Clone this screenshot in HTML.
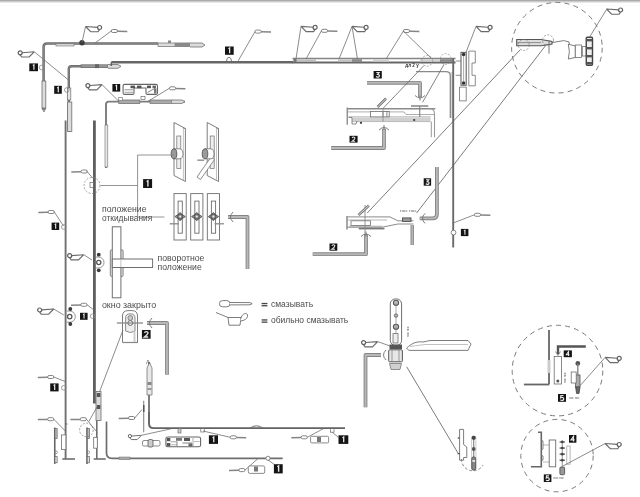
<!DOCTYPE html>
<html><head><meta charset="utf-8"><style>
html,body{margin:0;padding:0;background:#fff;width:640px;height:497px;overflow:hidden}
svg{display:block;filter:blur(0.5px)}
text{font-family:"Liberation Sans",sans-serif}
</style></head><body>
<svg width="640" height="497" viewBox="0 0 640 497">
<rect width="640" height="497" fill="#fff"/>
<rect x="0" y="0" width="640" height="1.7" fill="#aaaaaa"/>
<rect x="0" y="1.7" width="640" height="1.1" fill="#e2e2e2"/>
<path d="M43.6,110 L43.6,47 Q43.6,43.6 47,43.6 L158,43.6" stroke="#6a6a6a" stroke-width="2.5" fill="none" stroke-linejoin="round"/>
<path d="M43.6,110 L43.6,47 Q43.6,43.6 47,43.6 L158,43.6" stroke="#9a9a9a" stroke-width="0.6" fill="none" stroke-linejoin="round"/>
<rect x="42" y="81" width="3.8" height="27" stroke="#6e6e6e" stroke-width="0.8" fill="#dcdcdc" rx="0"/>
<path d="M42,108 L44,112 L45.8,108" stroke="#6e6e6e" stroke-width="0.8" fill="none" />
<rect x="56" y="43.8" width="18" height="2.2" stroke="#6e6e6e" stroke-width="0.6" fill="#dcdcdc" rx="0"/>
<circle cx="82" cy="42.8" r="2.7" stroke="#6e6e6e" stroke-width="0" fill="#3a3a3a" />
<rect x="158" y="43" width="17" height="3.4" stroke="#6e6e6e" stroke-width="0.7" fill="#dcdcdc" rx="0"/>
<rect x="175" y="42.5" width="15" height="4.5" fill="#8a8a8a"/>
<path d="M190,43 L202,43 L205,45 L202,47 L190,47" stroke="#6e6e6e" stroke-width="0.8" fill="#dcdcdc" />
<rect x="168" y="40.5" width="3" height="2.5" fill="#888"/>
<rect x="29.3" y="63.4" width="8.7" height="7.8" fill="#141414"/>
<path transform="translate(33.65,67.3) scale(0.9176470588235294)" d="M-0.9,-1.9 L0.3,-2.7 L0.3,2.7" stroke="#e8e8e8" stroke-width="1.3" fill="none"/>
<circle cx="41.6" cy="67.5" r="2.3" stroke="#888" stroke-width="0.8" fill="none" />
<g transform="translate(85.5,26.5) scale(1.0)" fill="none" stroke="#6a6a6a" stroke-width="1.15"><path d="M0,0 L12.2,0.9 M0,0 L5.2,5.2 L12.6,5.2 L14.2,3"/><circle cx="14.1" cy="1" r="2" stroke="#606060" stroke-width="1.2"/></g>
<line x1="85.5" y1="26.5" x2="82" y2="42.5" stroke="#6e6e6e" stroke-width="0.8" />
<g transform="translate(111.3,31)"><path d="M6,0.2 L16,0.4" stroke="#858585" stroke-width="1.5"/><rect x="0" y="-1.5" width="6.2" height="3" rx="1.5" fill="#fff" stroke="#777" stroke-width="0.9"/></g>
<line x1="111.3" y1="31" x2="95" y2="43" stroke="#6e6e6e" stroke-width="0.8" />
<g transform="translate(34.3,51.8) scale(-1.0,1.0)" fill="none" stroke="#6a6a6a" stroke-width="1.15"><path d="M0,0 L12.2,0.9 M0,0 L5.2,5.2 L12.6,5.2 L14.2,3"/><circle cx="14.1" cy="1" r="2" stroke="#606060" stroke-width="1.2"/></g>
<line x1="34.3" y1="51.8" x2="68.5" y2="80" stroke="#6e6e6e" stroke-width="0.8" />
<path d="M68.8,132 L68.8,69 Q68.8,66.2 71.6,66.2 L111.3,66.2" stroke="#6a6a6a" stroke-width="2.4" fill="none" stroke-linejoin="round"/>
<path d="M68.8,132 L68.8,69 Q68.8,66.2 71.6,66.2 L111.3,66.2" stroke="#9a9a9a" stroke-width="0.6" fill="none" stroke-linejoin="round"/>
<rect x="67.4" y="88" width="3.4" height="12" stroke="#6e6e6e" stroke-width="0.7" fill="#e6e6e6" rx="0"/>
<rect x="67.6" y="102" width="4.2" height="29.5" stroke="#6e6e6e" stroke-width="0.8" fill="#dcdcdc" rx="0"/>
<rect x="81" y="64.8" width="27" height="2.8" stroke="#666" stroke-width="0.7" fill="#999" rx="0"/>
<rect x="95" y="64.3" width="4" height="3.8" fill="#666"/>
<path d="M108,64.5 L118,64.5 L121,66.3 L118,68.3 L108,68.3" stroke="#6e6e6e" stroke-width="0.8" fill="#dcdcdc" />
<line x1="111.3" y1="66" x2="111.3" y2="62.3" stroke="#636363" stroke-width="1.6" />
<line x1="111.3" y1="62.3" x2="293" y2="62.3" stroke="#666" stroke-width="2.4" />
<line x1="292.5" y1="58.4" x2="455.5" y2="58.4" stroke="#858585" stroke-width="1.5" />
<line x1="292.5" y1="62.5" x2="455.5" y2="62.5" stroke="#666" stroke-width="2.1" />
<rect x="293.5" y="59.4" width="22.5" height="2.2" fill="#bdbdbd"/>
<rect x="293.5" y="59" width="3" height="3" fill="#777"/>
<rect x="338" y="59.4" width="14" height="2.2" fill="#c4c4c4"/>
<rect x="352" y="59.2" width="10" height="2.6" fill="#888"/>
<rect x="373" y="59.4" width="16" height="2.2" fill="#cfcfcf"/>
<rect x="420" y="59.4" width="20" height="2.2" fill="#cfcfcf"/>
<rect x="440" y="59.2" width="13" height="2.6" fill="#8a8a8a"/>
<rect x="450.3" y="72" width="3" height="46" fill="#d8d8d8"/>
<line x1="453.2" y1="58.3" x2="453.2" y2="247.5" stroke="#6a6a6a" stroke-width="1.9" />
<path d="M416,71.7 L446,71.7 Q450.3,71.7 450.3,76 L450.3,118" stroke="#8a8a8a" stroke-width="1.3" fill="none" />
<rect x="54.2" y="85.8" width="7.6" height="8" fill="#141414"/>
<path transform="translate(58.0,89.8) scale(0.9411764705882353)" d="M-0.9,-1.9 L0.3,-2.7 L0.3,2.7" stroke="#e8e8e8" stroke-width="1.3" fill="none"/>
<circle cx="66.8" cy="90" r="2.3" stroke="#888" stroke-width="0.8" fill="none" />
<rect x="225" y="46.5" width="8.7" height="8.3" fill="#141414"/>
<path transform="translate(229.35,50.65) scale(0.9764705882352942)" d="M-0.9,-1.9 L0.3,-2.7 L0.3,2.7" stroke="#e8e8e8" stroke-width="1.3" fill="none"/>
<path d="M226.5,61.2 Q226.8,57.3 229,57.3 Q231.2,57.3 231.6,61.2" stroke="#6e6e6e" stroke-width="0.9" fill="none" />
<g transform="translate(255,31.6)"><path d="M6,0.2 L16,0.4" stroke="#858585" stroke-width="1.5"/><rect x="0" y="-1.5" width="6.2" height="3" rx="1.5" fill="#fff" stroke="#777" stroke-width="0.9"/></g>
<line x1="255" y1="31.6" x2="237.5" y2="62" stroke="#6e6e6e" stroke-width="0.8" />
<g transform="translate(301,26.4) scale(1.0)" fill="none" stroke="#6a6a6a" stroke-width="1.15"><path d="M0,0 L12.2,0.9 M0,0 L5.2,5.2 L12.6,5.2 L14.2,3"/><circle cx="14.1" cy="1" r="2" stroke="#606060" stroke-width="1.2"/></g>
<line x1="301" y1="26.4" x2="296" y2="59" stroke="#6e6e6e" stroke-width="0.8" />
<g transform="translate(321.4,30.8)"><path d="M6,0.2 L16,0.4" stroke="#858585" stroke-width="1.5"/><rect x="0" y="-1.5" width="6.2" height="3" rx="1.5" fill="#fff" stroke="#777" stroke-width="0.9"/></g>
<line x1="321.4" y1="30.8" x2="306" y2="59" stroke="#6e6e6e" stroke-width="0.8" />
<g transform="translate(352,26.4) scale(1.0)" fill="none" stroke="#6a6a6a" stroke-width="1.15"><path d="M0,0 L12.2,0.9 M0,0 L5.2,5.2 L12.6,5.2 L14.2,3"/><circle cx="14.1" cy="1" r="2" stroke="#606060" stroke-width="1.2"/></g>
<line x1="352" y1="26.4" x2="339" y2="59" stroke="#6e6e6e" stroke-width="0.8" />
<line x1="352" y1="26.4" x2="357.5" y2="59" stroke="#6e6e6e" stroke-width="0.8" />
<g transform="translate(403.4,31)"><path d="M6,0.2 L16,0.4" stroke="#858585" stroke-width="1.5"/><rect x="0" y="-1.5" width="6.2" height="3" rx="1.5" fill="#fff" stroke="#777" stroke-width="0.9"/></g>
<line x1="403.4" y1="31" x2="386" y2="59" stroke="#6e6e6e" stroke-width="0.8" />
<line x1="403.4" y1="31" x2="431" y2="58" stroke="#6e6e6e" stroke-width="0.8" />
<text x="405.3" y="67" font-size="5" fill="#333" font-weight="bold" textLength="13.4" lengthAdjust="spacingAndGlyphs">дл 2 у</text>
<circle cx="427.2" cy="60.8" r="5.4" stroke="#7a7a7a" stroke-width="0.6" fill="none" stroke-dasharray="2 1.4"/>
<circle cx="445.7" cy="59" r="5.4" stroke="#7a7a7a" stroke-width="0.6" fill="none" stroke-dasharray="2 1.4"/>
<path d="M455.7,61 L461,61 M455.7,75.3 L461,75.3" stroke="#6e6e6e" stroke-width="0.8" fill="none" />
<rect x="461" y="52.4" width="5.2" height="32.8" stroke="#636363" stroke-width="1.1" fill="#fff" rx="0"/>
<circle cx="463.6" cy="54.5" r="1.8" stroke="#6e6e6e" stroke-width="0" fill="#333" />
<circle cx="463.6" cy="83" r="1.8" stroke="#6e6e6e" stroke-width="0" fill="#333" />
<line x1="463.6" y1="56" x2="463.6" y2="81" stroke="#6e6e6e" stroke-width="0.6" />
<path d="M468.8,51.1 L475.3,51.1 L475.3,63 L472,63 L472,75.3 L475.3,75.3 L475.3,85.8 L468.8,85.8 Z" stroke="#6e6e6e" stroke-width="0.8" fill="#fff" />
<rect x="459.6" y="87.1" width="6.6" height="13.8" stroke="#6e6e6e" stroke-width="0.8" fill="#fff" rx="0"/>
<g transform="translate(476,26.4) scale(1.0)" fill="none" stroke="#6a6a6a" stroke-width="1.15"><path d="M0,0 L12.2,0.9 M0,0 L5.2,5.2 L12.6,5.2 L14.2,3"/><circle cx="14.1" cy="1" r="2" stroke="#606060" stroke-width="1.2"/></g>
<line x1="476" y1="26.4" x2="466" y2="52.4" stroke="#6e6e6e" stroke-width="0.8" />
<line x1="65.6" y1="120.4" x2="65.6" y2="459" stroke="#707070" stroke-width="1.9" />
<line x1="62.3" y1="459" x2="75" y2="459" stroke="#6e6e6e" stroke-width="1.6" />
<line x1="94.4" y1="120.4" x2="94.4" y2="403.5" stroke="#5e5e5e" stroke-width="2.8" />
<path d="M106,168 L106,104.4 Q106,101.6 108.8,101.6 L185,101.6" stroke="#7c7c7c" stroke-width="1.9" fill="none" />
<rect x="118.75" y="100" width="21" height="3.4" stroke="#707070" stroke-width="0.8" fill="#aaa" rx="0"/>
<rect x="118.75" y="97.5" width="3.75" height="3" stroke="#777" stroke-width="0.7" fill="#fff" rx="0"/>
<rect x="105" y="125" width="2.8" height="42" stroke="#6e6e6e" stroke-width="0.6" fill="#e8e8e8" rx="0"/>
<rect x="150" y="100" width="22" height="3.4" stroke="#6e6e6e" stroke-width="0.7" fill="#aaa" rx="0"/>
<path d="M172,100 L182,100 L185,101.7 L182,103.4 L172,103.4" stroke="#6e6e6e" stroke-width="0.8" fill="#dcdcdc" />
<rect x="112.4" y="84" width="7.8" height="7.6" fill="#141414"/>
<path transform="translate(116.30000000000001,87.8) scale(0.8941176470588235)" d="M-0.9,-1.9 L0.3,-2.7 L0.3,2.7" stroke="#e8e8e8" stroke-width="1.3" fill="none"/>
<path d="M124.6,84.4 L156,84.4 Q157.5,84.4 157.5,86 L157.5,92.9 Q157.5,94.4 156,94.4 L147.5,94.4 Q146,94.4 146,92.9 L146,88 L134,88 L134,92.9 Q134,94.4 132.5,94.4 L124.6,94.4 Q123.1,94.4 123.1,92.9 L123.1,86 Q123.1,84.4 124.6,84.4 Z" stroke="#666" stroke-width="1.1" fill="#fff" />
<rect x="130.5" y="85.6" width="4.5" height="2.6" fill="#555"/>
<rect x="137" y="85.6" width="4.5" height="2.6" fill="#555"/>
<rect x="147" y="85.6" width="4" height="2.6" fill="#555"/>
<rect x="152.5" y="85.6" width="3.5" height="2.6" fill="#666"/>
<line x1="124.5" y1="89.8" x2="133" y2="89.8" stroke="#888" stroke-width="0.9" />
<line x1="124.5" y1="92.3" x2="133" y2="92.3" stroke="#999" stroke-width="0.9" />
<line x1="147.5" y1="92.5" x2="155.5" y2="88" stroke="#777" stroke-width="0.9" />
<rect x="154" y="88.5" width="2.5" height="5" fill="#777"/>
<g transform="translate(102,84.6) scale(-1.0,1.0)" fill="none" stroke="#6a6a6a" stroke-width="1.15"><path d="M0,0 L12.2,0.9 M0,0 L5.2,5.2 L12.6,5.2 L14.2,3"/><circle cx="14.1" cy="1" r="2" stroke="#606060" stroke-width="1.2"/></g>
<line x1="102" y1="84.6" x2="119" y2="101.5" stroke="#6e6e6e" stroke-width="0.8" />
<g transform="translate(169.4,88.3)"><path d="M6,0.2 L16,0.4" stroke="#858585" stroke-width="1.5"/><rect x="0" y="-1.5" width="6.2" height="3" rx="1.5" fill="#fff" stroke="#777" stroke-width="0.9"/></g>
<line x1="169.4" y1="88.3" x2="147.5" y2="101.6" stroke="#6e6e6e" stroke-width="0.8" />
<rect x="141" y="96.5" width="4" height="3" stroke="#6e6e6e" stroke-width="0.7" fill="none" rx="0"/>
<path d="M174,122.5 L185.4,128.5 L185.4,181.5 L174,175.5 Z" stroke="#6e6e6e" stroke-width="0.9" fill="#fff" />
<path d="M185.4,128.5 L183.20000000000002,128.5 " stroke="#6e6e6e" stroke-width="0.6" fill="none" />
<line x1="183.4" y1="128.0" x2="183.4" y2="181.0" stroke="#999" stroke-width="0.6" />
<rect x="176.8" y="136" width="4" height="32.5" stroke="#6e6e6e" stroke-width="0.7" fill="#eee" rx="0"/>
<path d="M174,148.8 L180,148.8 A3,5 0 0 1 180,158.8 L174,158.8" stroke="#6e6e6e" stroke-width="0.8" fill="#fff" />
<ellipse cx="174" cy="153.8" rx="2.8" ry="5" fill="#9a9a9a" stroke="#555" stroke-width="0.9"/>
<path d="M207.2,122.5 L218.5,128.5 L218.5,181.5 L207.2,175.5 Z" stroke="#6e6e6e" stroke-width="0.9" fill="#fff" />
<path d="M218.5,128.5 L216.3,128.5 " stroke="#6e6e6e" stroke-width="0.6" fill="none" />
<line x1="216.5" y1="128.0" x2="216.5" y2="181.0" stroke="#999" stroke-width="0.6" />
<rect x="210.2" y="136" width="4" height="32.5" stroke="#6e6e6e" stroke-width="0.7" fill="#eee" rx="0"/>
<path d="M197,177 L211,157 L214.5,159.5 L200.5,179.5 Z" stroke="#6e6e6e" stroke-width="0.8" fill="#fff" />
<line x1="197.4" y1="160.2" x2="204.2" y2="160.2" stroke="#999" stroke-width="1.6" />
<path d="M205,148.8 L211,148.8 A3,5 0 0 1 211,158.8 L205,158.8" stroke="#6e6e6e" stroke-width="0.8" fill="#fff" />
<ellipse cx="205" cy="153.8" rx="2.8" ry="5" fill="#9a9a9a" stroke="#555" stroke-width="0.9"/>
<line x1="137.6" y1="155" x2="174" y2="155" stroke="#888" stroke-width="0.9" />
<line x1="137.6" y1="155" x2="137.6" y2="217" stroke="#888" stroke-width="0.9" />
<line x1="100.5" y1="185.5" x2="137.6" y2="185.5" stroke="#888" stroke-width="0.9" />
<line x1="137.6" y1="217" x2="164.4" y2="217" stroke="#888" stroke-width="0.9" />
<rect x="143.1" y="179.1" width="9" height="8.9" fill="#141414"/>
<path transform="translate(147.6,183.54999999999998) scale(1.0470588235294118)" d="M-0.9,-1.9 L0.3,-2.7 L0.3,2.7" stroke="#e8e8e8" stroke-width="1.3" fill="none"/>
<circle cx="92" cy="185.5" r="8" stroke="#7a7a7a" stroke-width="0.7" fill="none" stroke-dasharray="2 1.5"/>
<rect x="90" y="182.5" width="3.5" height="5" stroke="#6e6e6e" stroke-width="0.7" fill="none" rx="0"/>
<g transform="translate(87.3,171.5) scale(-1,1)"><path d="M6,0.2 L16,0.4" stroke="#858585" stroke-width="1.5"/><rect x="0" y="-1.5" width="6.2" height="3" rx="1.5" fill="#fff" stroke="#777" stroke-width="0.9"/></g>
<line x1="86.5" y1="171" x2="93.2" y2="178.5" stroke="#6e6e6e" stroke-width="0.8" />
<rect x="174" y="193.6" width="12.2" height="46.4" stroke="#6e6e6e" stroke-width="0.9" fill="#fff" rx="0"/>
<rect x="178.1" y="201.1" width="4.2" height="32.1" stroke="#6e6e6e" stroke-width="0.9" fill="none" rx="0"/>
<path d="M174.9,216.6 L177.6,214.79999999999998 L180.1,212.6 L182.6,214.79999999999998 L185.29999999999998,216.6 L182.6,218.4 L180.1,220.6 L177.6,218.4 Z" stroke="#555" stroke-width="0.9" fill="#9a9a9a" />
<circle cx="180.1" cy="216.6" r="2.6" stroke="#444" stroke-width="0.8" fill="#888" />
<circle cx="180.1" cy="216.6" r="1.0" stroke="#6e6e6e" stroke-width="0" fill="#eee" />
<rect x="190.7" y="193.6" width="12.2" height="46.4" stroke="#6e6e6e" stroke-width="0.9" fill="#fff" rx="0"/>
<rect x="194.79999999999998" y="201.1" width="4.2" height="32.1" stroke="#6e6e6e" stroke-width="0.9" fill="none" rx="0"/>
<path d="M191.6,216.6 L194.29999999999998,214.79999999999998 L196.79999999999998,212.6 L199.29999999999998,214.79999999999998 L201.99999999999997,216.6 L199.29999999999998,218.4 L196.79999999999998,220.6 L194.29999999999998,218.4 Z" stroke="#555" stroke-width="0.9" fill="#9a9a9a" />
<circle cx="196.79999999999998" cy="216.6" r="2.6" stroke="#444" stroke-width="0.8" fill="#888" />
<circle cx="196.79999999999998" cy="216.6" r="1.0" stroke="#6e6e6e" stroke-width="0" fill="#eee" />
<rect x="207.3" y="193.6" width="12.2" height="46.4" stroke="#6e6e6e" stroke-width="0.9" fill="#fff" rx="0"/>
<rect x="211.4" y="201.1" width="4.2" height="32.1" stroke="#6e6e6e" stroke-width="0.9" fill="none" rx="0"/>
<path d="M208.20000000000002,216.6 L210.9,214.79999999999998 L213.4,212.6 L215.9,214.79999999999998 L218.6,216.6 L215.9,218.4 L213.4,220.6 L210.9,218.4 Z" stroke="#555" stroke-width="0.9" fill="#9a9a9a" />
<circle cx="213.4" cy="216.6" r="2.6" stroke="#444" stroke-width="0.8" fill="#888" />
<circle cx="213.4" cy="216.6" r="1.0" stroke="#6e6e6e" stroke-width="0" fill="#eee" />
<line x1="169.7" y1="223.8" x2="179" y2="223.8" stroke="#888" stroke-width="1.3" />
<line x1="214.5" y1="223.8" x2="223.9" y2="223.8" stroke="#888" stroke-width="1.3" />
<path d="M228,217 L247.5,217 L247.5,269" stroke="#858585" stroke-width="3.8" fill="none" stroke-linejoin="round"/>
<path d="M228,217 L247.5,217 L247.5,269" stroke="#b8b8b8" stroke-width="1.9" fill="none" stroke-linejoin="round"/>
<path d="M233,212 Q228,217 233,222" stroke="#6e6e6e" stroke-width="0.9" fill="none" />
<text x="102" y="211.9" font-size="9.3" fill="#4c4c4c" textLength="44.5" lengthAdjust="spacingAndGlyphs">положение</text>
<text x="102" y="221.3" font-size="9.3" fill="#4c4c4c" textLength="50.2" lengthAdjust="spacingAndGlyphs">откидывания</text>
<text x="157.5" y="261" font-size="9.3" fill="#4c4c4c" textLength="46.9" lengthAdjust="spacingAndGlyphs">поворотное</text>
<text x="157.5" y="269.6" font-size="9.3" fill="#4c4c4c" textLength="44.2" lengthAdjust="spacingAndGlyphs">положение</text>
<text x="101.9" y="307.5" font-size="9.3" fill="#4c4c4c" textLength="54.3" lengthAdjust="spacingAndGlyphs">окно закрыто</text>
<text x="271" y="306.9" font-size="9.3" fill="#4c4c4c" textLength="42.1" lengthAdjust="spacingAndGlyphs">смазывать</text>
<text x="271" y="323.3" font-size="9.3" fill="#4c4c4c" textLength="77.3" lengthAdjust="spacingAndGlyphs">обильно смазывать</text>
<rect x="261.6" y="302.9" width="5.8" height="1.3" fill="#444"/>
<rect x="261.6" y="305.1" width="5.8" height="1.3" fill="#444"/>
<rect x="261.6" y="319.3" width="5.8" height="1.3" fill="#444"/>
<rect x="261.6" y="321.5" width="5.8" height="1.3" fill="#444"/>
<g fill="#fff" stroke="#6e6e6e" stroke-width="0.9"><rect x="219.4" y="300.6" width="10.6" height="6.2" rx="3.1"/><path d="M230,302.5 L250,302.6 L252.2,303.7 L250,304.8 L230,304.9"/></g>
<g fill="#fff" stroke="#6e6e6e" stroke-width="0.9"><path d="M216,312.5 L228,317.5 L241,317.5 L240,325.2 L229,325.2 L228,317.5"/><path d="M241,318.5 C242,312.5 248.5,312 247.5,316.5 C247,319 244.5,320.5 240.5,321"/></g>
<rect x="110.3" y="249.9" width="12.8" height="26.5" stroke="#777" stroke-width="0.9" fill="#e4e4e4" rx="1"/>
<rect x="112.3" y="226.8" width="8.6" height="71" stroke="#6e6e6e" stroke-width="1" fill="#fff" rx="0"/>
<rect x="112.3" y="259" width="40.3" height="8.5" stroke="#6e6e6e" stroke-width="1" fill="#fff" rx="0"/>
<line x1="120.9" y1="259.5" x2="120.9" y2="267" stroke="#aaa" stroke-width="0.7" />
<path d="M95.6,257 L98.5,257 A5.5,5.5 0 0 1 98.5,268 L95.6,268" stroke="#888" stroke-width="0.9" fill="none" />
<circle cx="98.75" cy="262.5" r="2.1" stroke="#555" stroke-width="1.3" fill="#fff" />
<circle cx="98.75" cy="254.7" r="1.9" stroke="#6e6e6e" stroke-width="0" fill="#3a3a3a" />
<circle cx="98.75" cy="270.3" r="1.9" stroke="#6e6e6e" stroke-width="0" fill="#3a3a3a" />
<g transform="translate(83.75,254.7) scale(-1.0,1.0)" fill="none" stroke="#6a6a6a" stroke-width="1.15"><path d="M0,0 L12.2,0.9 M0,0 L5.2,5.2 L12.6,5.2 L14.2,3"/><circle cx="14.1" cy="1" r="2" stroke="#606060" stroke-width="1.2"/></g>
<line x1="83.75" y1="254.7" x2="91.9" y2="260" stroke="#6e6e6e" stroke-width="0.8" />
<g transform="translate(54.3,212) scale(-1,1)"><path d="M6,0.2 L16,0.4" stroke="#858585" stroke-width="1.5"/><rect x="0" y="-1.5" width="6.2" height="3" rx="1.5" fill="#fff" stroke="#777" stroke-width="0.9"/></g>
<line x1="54.3" y1="212" x2="63.5" y2="226" stroke="#6e6e6e" stroke-width="0.8" />
<rect x="51.6" y="222.6" width="7.6" height="7.4" fill="#141414"/>
<path transform="translate(55.4,226.29999999999998) scale(0.8705882352941177)" d="M-0.9,-1.9 L0.3,-2.7 L0.3,2.7" stroke="#e8e8e8" stroke-width="1.3" fill="none"/>
<circle cx="63.8" cy="227" r="2.3" stroke="#888" stroke-width="0.8" fill="none" />
<path d="M66.8,311 L69.7,311 A5.6,5.6 0 0 1 69.7,322.2 L66.8,322.2" stroke="#888" stroke-width="0.9" fill="none" />
<circle cx="69.7" cy="316.6" r="2.2" stroke="#555" stroke-width="1.3" fill="#fff" />
<circle cx="70.3" cy="309" r="1.9" stroke="#6e6e6e" stroke-width="0" fill="#3a3a3a" />
<circle cx="70.3" cy="324" r="1.9" stroke="#6e6e6e" stroke-width="0" fill="#3a3a3a" />
<g transform="translate(53.75,309) scale(-1.0,1.0)" fill="none" stroke="#6a6a6a" stroke-width="1.15"><path d="M0,0 L12.2,0.9 M0,0 L5.2,5.2 L12.6,5.2 L14.2,3"/><circle cx="14.1" cy="1" r="2" stroke="#606060" stroke-width="1.2"/></g>
<line x1="53.75" y1="309" x2="63.75" y2="315" stroke="#6e6e6e" stroke-width="0.8" />
<g transform="translate(87,304.8) scale(-1,1)"><path d="M6,0.2 L16,0.4" stroke="#858585" stroke-width="1.5"/><rect x="0" y="-1.5" width="6.2" height="3" rx="1.5" fill="#fff" stroke="#777" stroke-width="0.9"/></g>
<line x1="87" y1="304.8" x2="94" y2="310" stroke="#6e6e6e" stroke-width="0.8" />
<rect x="80" y="312.8" width="7.6" height="7" fill="#141414"/>
<path transform="translate(83.8,316.3) scale(0.8235294117647058)" d="M-0.9,-1.9 L0.3,-2.7 L0.3,2.7" stroke="#e8e8e8" stroke-width="1.3" fill="none"/>
<circle cx="92.60000000000001" cy="316.2" r="2.3" stroke="#888" stroke-width="0.8" fill="none" />
<g transform="translate(53.8,377) scale(-1,1)"><path d="M6,0.2 L16,0.4" stroke="#858585" stroke-width="1.5"/><rect x="0" y="-1.5" width="6.2" height="3" rx="1.5" fill="#fff" stroke="#777" stroke-width="0.9"/></g>
<line x1="53.8" y1="377" x2="65.6" y2="381.7" stroke="#6e6e6e" stroke-width="0.8" />
<rect x="50.2" y="383.4" width="8.4" height="8" fill="#141414"/>
<path transform="translate(54.400000000000006,387.4) scale(0.9411764705882353)" d="M-0.9,-1.9 L0.3,-2.7 L0.3,2.7" stroke="#e8e8e8" stroke-width="1.3" fill="none"/>
<circle cx="63.8" cy="387.8" r="2.3" stroke="#888" stroke-width="0.8" fill="none" />
<path d="M122.5,342.5 L122.5,316 Q122.5,310.6 128,310.6 L132,310.6 Q137.5,310.6 137.5,316 L137.5,342.5" stroke="#6e6e6e" stroke-width="0.9" fill="#fff" />
<line x1="122.5" y1="342.5" x2="138" y2="342.5" stroke="#888" stroke-width="1.2" />
<path d="M125.6,331 L125.6,318 Q125.6,313.8 130.3,313.8 Q135,313.8 135,318 L135,331 Q130.3,334 125.6,331 Z" stroke="#6e6e6e" stroke-width="0.8" fill="#eee" />
<circle cx="130.3" cy="318" r="2.4" stroke="#6e6e6e" stroke-width="0.8" fill="#ccc" />
<circle cx="130.3" cy="323" r="2.4" stroke="#555" stroke-width="0.9" fill="#fff" />
<line x1="116.9" y1="323" x2="143" y2="323" stroke="#888" stroke-width="1.3" />
<line x1="134.5" y1="331" x2="134.5" y2="342" stroke="#ccc" stroke-width="2" />
<rect x="141.9" y="330" width="8.7" height="8.7" fill="#141414"/>
<path transform="translate(146.25,334.35) scale(1.0235294117647058)" d="M-1.7,-1.4 Q-1.4,-2.7 0,-2.7 Q1.7,-2.7 1.7,-1.2 Q1.7,0 -1.8,2.6 L1.9,2.6" stroke="#e8e8e8" stroke-width="1.3" fill="none"/>
<line x1="123" y1="330" x2="99.7" y2="391.4" stroke="#6e6e6e" stroke-width="0.8" />
<path d="M147,323 L167,323 L167,374.7" stroke="#858585" stroke-width="3.8" fill="none" stroke-linejoin="round"/>
<path d="M147,323 L167,323 L167,374.7" stroke="#b8b8b8" stroke-width="1.9" fill="none" stroke-linejoin="round"/>
<path d="M152,318 Q147,323 152,328" stroke="#6e6e6e" stroke-width="0.9" fill="none" />
<line x1="65.6" y1="424" x2="67.5" y2="424" stroke="#6e6e6e" stroke-width="1" />
<rect x="61.5" y="434.9" width="4.4" height="14.5" stroke="#6e6e6e" stroke-width="0.8" fill="#fff" rx="0"/>
<line x1="54.74999999999999" y1="427.6" x2="54.74999999999999" y2="463.90000000000003" stroke="#666" stroke-width="1.6" />
<rect x="54.949999999999996" y="428.6" width="2.2" height="9.801" stroke="#666" stroke-width="0.7" fill="#bbb" rx="0"/>
<circle cx="55.949999999999996" cy="452.28400000000005" r="1.4" stroke="#777" stroke-width="0.7" fill="none" />
<rect x="54.949999999999996" y="456.64000000000004" width="2.2" height="6.171" stroke="#666" stroke-width="0.7" fill="#ddd" rx="0"/>
<g transform="translate(53.8,419.2) scale(-1,1)"><path d="M6,0.2 L16,0.4" stroke="#858585" stroke-width="1.5"/><rect x="0" y="-1.5" width="6.2" height="3" rx="1.5" fill="#fff" stroke="#777" stroke-width="0.9"/></g>
<line x1="53.8" y1="419.2" x2="65.6" y2="431.3" stroke="#6e6e6e" stroke-width="0.8" />
<line x1="96.8" y1="391" x2="96.8" y2="459" stroke="#6e6e6e" stroke-width="1.6" />
<line x1="93.7" y1="459" x2="105.7" y2="459" stroke="#6e6e6e" stroke-width="1.6" />
<rect x="96" y="391.4" width="5" height="29" stroke="#6e6e6e" stroke-width="0.8" fill="#dcdcdc" rx="0"/>
<rect x="96.8" y="393" width="3.5" height="4" fill="#555"/>
<rect x="96.8" y="405" width="3.5" height="4" fill="#555"/>
<rect x="93.7" y="437.3" width="3.6" height="10.9" stroke="#6e6e6e" stroke-width="0.8" fill="#fff" rx="0"/>
<line x1="87.00000000000001" y1="427.6" x2="87.00000000000001" y2="463.90000000000003" stroke="#666" stroke-width="1.6" />
<rect x="87.2" y="428.6" width="2.2" height="9.801" stroke="#666" stroke-width="0.7" fill="#bbb" rx="0"/>
<circle cx="88.2" cy="452.28400000000005" r="1.4" stroke="#777" stroke-width="0.7" fill="none" />
<rect x="87.2" y="456.64000000000004" width="2.2" height="6.171" stroke="#666" stroke-width="0.7" fill="#ddd" rx="0"/>
<circle cx="86.4" cy="430" r="6.8" stroke="#7a7a7a" stroke-width="0.7" fill="none" stroke-dasharray="2 1.5"/>
<g transform="translate(86.4,419.2) scale(-1,1)"><path d="M6,0.2 L16,0.4" stroke="#858585" stroke-width="1.5"/><rect x="0" y="-1.5" width="6.2" height="3" rx="1.5" fill="#fff" stroke="#777" stroke-width="0.9"/></g>
<line x1="86.4" y1="419.2" x2="97.3" y2="432.5" stroke="#6e6e6e" stroke-width="0.8" />
<line x1="88.8" y1="421.6" x2="97" y2="407" stroke="#6e6e6e" stroke-width="0.8" />
<path d="M149,362 L149,423.5 Q149,428.1 153.5,428.1 L345,428.1" stroke="#636363" stroke-width="1.9" fill="none" />
<path d="M147,395 L147,368 L149.5,362.5 L152,368 L152,395 Z" stroke="#777" stroke-width="0.8" fill="#e8e8e8" />
<rect x="147.5" y="382" width="4" height="3" fill="#888"/>
<rect x="147.5" y="388" width="4" height="2" fill="#999"/>
<line x1="149" y1="395" x2="149" y2="412" stroke="#888" stroke-width="1.4" />
<path d="M146.2,364 L148,360 L150,364" stroke="#6e6e6e" stroke-width="0.7" fill="none" />
<g transform="translate(134.7,418) scale(-1,1)"><path d="M6,0.2 L16,0.4" stroke="#858585" stroke-width="1.5"/><rect x="0" y="-1.5" width="6.2" height="3" rx="1.5" fill="#fff" stroke="#777" stroke-width="0.9"/></g>
<line x1="134.7" y1="418" x2="142" y2="409.5" stroke="#6e6e6e" stroke-width="0.8" />
<line x1="143.7" y1="400.8" x2="143.7" y2="432.2" stroke="#888" stroke-width="1.1" />
<rect x="143" y="405" width="1.5" height="7" fill="#555"/>
<g transform="translate(141.5,435.3) scale(-0.82,0.82)" fill="none" stroke="#6a6a6a" stroke-width="1.15"><path d="M0,0 L12.2,0.9 M0,0 L5.2,5.2 L12.6,5.2 L14.2,3"/><circle cx="14.1" cy="1" r="2" stroke="#606060" stroke-width="1.2"/></g>
<line x1="141.5" y1="435.3" x2="171.25" y2="428.75" stroke="#6e6e6e" stroke-width="0.8" />
<rect x="142.5" y="440.5" width="17.5" height="5.5" stroke="#6e6e6e" stroke-width="0.8" fill="#fff" rx="1.5"/>
<rect x="148" y="439.5" width="5" height="7.5" stroke="#555" stroke-width="0.8" fill="#ccc" rx="1.5"/>
<rect x="165.9" y="437" width="34.7" height="9.8" stroke="#666" stroke-width="1.1" fill="#fff" rx="1.8"/>
<rect x="166.8" y="438" width="3.5" height="3.2" fill="#555"/>
<rect x="166.8" y="443" width="3.5" height="3.2" fill="#555"/>
<line x1="170.5" y1="441.8" x2="177" y2="441.8" stroke="#999" stroke-width="0.9" />
<line x1="170.5" y1="444.8" x2="177" y2="444.8" stroke="#aaa" stroke-width="0.9" />
<rect x="176" y="438" width="6" height="2.8" fill="#777"/>
<rect x="184" y="438" width="6" height="3" fill="#555"/>
<line x1="177" y1="441.5" x2="177" y2="446.5" stroke="#777" stroke-width="0.9" />
<line x1="182.5" y1="443" x2="192" y2="443" stroke="#777" stroke-width="0.9" />
<rect x="188.5" y="443.5" width="4" height="3" fill="#666"/>
<line x1="193" y1="438" x2="193" y2="446.5" stroke="#999" stroke-width="0.8" />
<line x1="194" y1="441.5" x2="199.5" y2="441.5" stroke="#aaa" stroke-width="0.8" />
<rect x="178" y="428.5" width="3" height="4.5" stroke="#6e6e6e" stroke-width="0.7" fill="#ccc" rx="0"/>
<rect x="200.8" y="428.5" width="3.5" height="3.5" stroke="#6e6e6e" stroke-width="0.7" fill="none" rx="0"/>
<path d="M250,428.1 Q256.5,423.5 263,428.1" stroke="#6e6e6e" stroke-width="1" fill="none" />
<rect x="208.9" y="435.3" width="9.1" height="8.6" fill="#141414"/>
<path transform="translate(213.45000000000002,439.6) scale(1.011764705882353)" d="M-0.9,-1.9 L0.3,-2.7 L0.3,2.7" stroke="#e8e8e8" stroke-width="1.3" fill="none"/>
<line x1="203" y1="431" x2="230.2" y2="437.3" stroke="#6e6e6e" stroke-width="0.8" />
<g transform="translate(230.2,437.3)"><path d="M6,0.2 L16,0.4" stroke="#858585" stroke-width="1.5"/><rect x="0" y="-1.5" width="6.2" height="3" rx="1.5" fill="#fff" stroke="#777" stroke-width="0.9"/></g>
<g transform="translate(307.3,437.3) scale(-1,1)"><path d="M6,0.2 L16,0.4" stroke="#858585" stroke-width="1.5"/><rect x="0" y="-1.5" width="6.2" height="3" rx="1.5" fill="#fff" stroke="#777" stroke-width="0.9"/></g>
<line x1="307.3" y1="437.3" x2="323.7" y2="428.5" stroke="#6e6e6e" stroke-width="0.8" />
<rect x="310.6" y="436.3" width="18" height="6.6" stroke="#6e6e6e" stroke-width="0.8" fill="#fff" rx="1"/>
<rect x="317" y="437" width="4" height="5" fill="#777"/>
<rect x="330.5" y="428.2" width="3.5" height="4" stroke="#6e6e6e" stroke-width="0.7" fill="none" rx="0"/>
<line x1="332" y1="432" x2="338.5" y2="437.5" stroke="#6e6e6e" stroke-width="0.8" />
<rect x="338.5" y="435.3" width="9.8" height="8.6" fill="#141414"/>
<path transform="translate(343.4,439.6) scale(1.011764705882353)" d="M-0.9,-1.9 L0.3,-2.7 L0.3,2.7" stroke="#e8e8e8" stroke-width="1.3" fill="none"/>
<path d="M106.5,421.6 L106.5,453 Q106.5,458.3 112,458.3 L282.7,458.3" stroke="#6e6e6e" stroke-width="1.7" fill="none" />
<rect x="119" y="457" width="11" height="2.6" stroke="#6e6e6e" stroke-width="0.5" fill="#aaa" rx="0"/>
<circle cx="268" cy="458.3" r="2.1" stroke="#6e6e6e" stroke-width="0.8" fill="#fff" />
<g transform="translate(245,470.1) scale(-1,1)"><path d="M6,0.2 L16,0.4" stroke="#858585" stroke-width="1.5"/><rect x="0" y="-1.5" width="6.2" height="3" rx="1.5" fill="#fff" stroke="#777" stroke-width="0.9"/></g>
<line x1="245" y1="470.1" x2="258" y2="458.5" stroke="#6e6e6e" stroke-width="0.8" />
<rect x="248.3" y="465.9" width="16.4" height="7.5" stroke="#6e6e6e" stroke-width="0.8" fill="#fff" rx="1.5"/>
<rect x="254" y="466.5" width="4" height="5" fill="#777"/>
<line x1="268" y1="460" x2="274.5" y2="464.5" stroke="#6e6e6e" stroke-width="0.8" />
<rect x="273.9" y="464.2" width="8.8" height="9.2" fill="#141414"/>
<path transform="translate(278.29999999999995,468.8) scale(1.0823529411764705)" d="M-0.9,-1.9 L0.3,-2.7 L0.3,2.7" stroke="#e8e8e8" stroke-width="1.3" fill="none"/>
<line x1="347.2" y1="107.5" x2="347.2" y2="124.7" stroke="#6e6e6e" stroke-width="1.1" />
<line x1="347.2" y1="108.8" x2="435.3" y2="108.8" stroke="#8a8a8a" stroke-width="1.6" />
<line x1="347.2" y1="111.9" x2="404" y2="111.9" stroke="#999" stroke-width="0.8" />
<path d="M404,111.9 L406,114.5 L435,114.5" stroke="#999" stroke-width="0.8" fill="none" />
<line x1="347.2" y1="116.9" x2="430.6" y2="116.9" stroke="#999" stroke-width="0.8" />
<rect x="352" y="117.6" width="78.6" height="4" fill="#d0d0d0"/>
<line x1="352" y1="121.6" x2="430.6" y2="121.6" stroke="#aaa" stroke-width="0.7" />
<rect x="370.5" y="111.4" width="18.7" height="5.5" stroke="#6e6e6e" stroke-width="0.8" fill="#fff" rx="0"/>
<line x1="383" y1="111.4" x2="383" y2="116.9" stroke="#6e6e6e" stroke-width="0.8" />
<line x1="386.9" y1="111.4" x2="386.9" y2="116.9" stroke="#6e6e6e" stroke-width="0.8" />
<circle cx="414.2" cy="120" r="1.1" stroke="#6e6e6e" stroke-width="0" fill="#333" />
<circle cx="361" cy="122.8" r="1.1" stroke="#6e6e6e" stroke-width="0" fill="#333" />
<path d="M349,117.5 L352,117.5 L352,124 L356,124 L357,121" stroke="#6e6e6e" stroke-width="0.8" fill="none" />
<path d="M430,108.8 Q434.5,108.8 434.5,114 L434.5,137.2" stroke="#999" stroke-width="1.1" fill="none" />
<line x1="431.3" y1="121.6" x2="431.3" y2="137.2" stroke="#999" stroke-width="1" />
<line x1="411" y1="106" x2="428.3" y2="106" stroke="#999" stroke-width="1.8" />
<line x1="419.7" y1="106" x2="419.7" y2="116.9" stroke="#888" stroke-width="1.2" />
<line x1="383" y1="108" x2="383" y2="121.6" stroke="#888" stroke-width="0.8" />
<path d="M377.5,107 L386,98.5" stroke="#777" stroke-width="2.6" fill="none" />
<path d="M377.5,107 L386,98.5" stroke="#ddd" stroke-width="1" fill="none" />
<path d="M367,82.8 L420,82.8 L420,97" stroke="#858585" stroke-width="3.8" fill="none" stroke-linejoin="round"/>
<path d="M367,82.8 L420,82.8 L420,97" stroke="#b8b8b8" stroke-width="1.9" fill="none" stroke-linejoin="round"/>
<path d="M415,95.5 Q420,100.5 425,95.5" stroke="#6e6e6e" stroke-width="0.9" fill="none" />
<line x1="420" y1="95.5" x2="420" y2="100.5" stroke="#6e6e6e" stroke-width="0.9" />
<rect x="373.6" y="71" width="8.2" height="7.5" fill="#141414"/>
<path transform="translate(377.70000000000005,74.75) scale(0.8823529411764706)" d="M-1.6,-2.6 L1.6,-2.6 L-0.2,-0.5 Q1.9,-0.5 1.9,1 Q1.9,2.7 0,2.7 Q-1.3,2.7 -1.8,1.9" stroke="#e8e8e8" stroke-width="1.3" fill="none"/>
<line x1="383" y1="108.4" x2="424" y2="65.5" stroke="#666" stroke-width="0.8" />
<line x1="422.6" y1="102.3" x2="444" y2="64.4" stroke="#666" stroke-width="0.8" />
<rect x="349.5" y="135.8" width="8.1" height="6.8" fill="#141414"/>
<path transform="translate(353.55,139.20000000000002) scale(0.7999999999999999)" d="M-1.7,-1.4 Q-1.4,-2.7 0,-2.7 Q1.7,-2.7 1.7,-1.2 Q1.7,0 -1.8,2.6 L1.9,2.6" stroke="#e8e8e8" stroke-width="1.3" fill="none"/>
<path d="M331.2,148 L384,148 L384,128.7" stroke="#858585" stroke-width="3.8" fill="none" stroke-linejoin="round"/>
<path d="M331.2,148 L384,148 L384,128.7" stroke="#b8b8b8" stroke-width="1.9" fill="none" stroke-linejoin="round"/>
<path d="M379,130 Q384,125 389,130" stroke="#6e6e6e" stroke-width="0.9" fill="none" />
<line x1="384" y1="130" x2="384" y2="125" stroke="#6e6e6e" stroke-width="0.9" />
<line x1="520" y1="50" x2="367.3" y2="213" stroke="#5a5a5a" stroke-width="0.8" />
<line x1="546" y1="45" x2="416.6" y2="213" stroke="#5a5a5a" stroke-width="0.8" />
<line x1="347" y1="216" x2="347" y2="229.4" stroke="#6e6e6e" stroke-width="1.2" />
<path d="M347,216.9 L390,216.9 L397.8,220.8 L413.4,220.8" stroke="#8a8a8a" stroke-width="1" fill="none" />
<line x1="347" y1="220" x2="387" y2="220" stroke="#999" stroke-width="0.7" />
<rect x="349" y="225.5" width="33" height="1.8" fill="#d0d0d0"/>
<path d="M347,227.2 L382,227.2 L397.8,224 L413.4,224" stroke="#8a8a8a" stroke-width="1" fill="none" />
<rect x="351" y="220.8" width="19.5" height="4.7" stroke="#6e6e6e" stroke-width="0.8" fill="#fff" rx="0"/>
<line x1="358.75" y1="228.6" x2="384.5" y2="228.6" stroke="#777" stroke-width="1.6" />
<rect x="402.5" y="217.9" width="8.5" height="3.5" stroke="#444" stroke-width="0.8" fill="#999" rx="0"/>
<line x1="365" y1="205" x2="365" y2="236" stroke="#888" stroke-width="0.9" />
<text x="400" y="212.3" font-size="2.8" fill="#666" textLength="17" lengthAdjust="spacingAndGlyphs">нос нос</text>
<path d="M412.2,225 L412.2,245" stroke="#858585" stroke-width="3.4" fill="none" stroke-linejoin="round"/>
<path d="M412.2,225 L412.2,245" stroke="#b8b8b8" stroke-width="1.5" fill="none" stroke-linejoin="round"/>
<path d="M358.5,215 L369,205.5" stroke="#777" stroke-width="2.6" fill="none" />
<path d="M358.5,215 L369,205.5" stroke="#ddd" stroke-width="1" fill="none" />
<path d="M436.9,167 L436.9,214 Q436.9,218.4 432.5,218.4 L419.7,218.4" stroke="#858585" stroke-width="3.8" fill="none" stroke-linejoin="round"/>
<path d="M436.9,167 L436.9,214 Q436.9,218.4 432.5,218.4 L419.7,218.4" stroke="#b8b8b8" stroke-width="1.9" fill="none" stroke-linejoin="round"/>
<path d="M425,213.4 Q420,218.4 425,223.4" stroke="#6e6e6e" stroke-width="0.9" fill="none" />
<rect x="423.7" y="178.3" width="7.4" height="7.4" fill="#141414"/>
<path transform="translate(427.4,182.0) scale(0.8705882352941177)" d="M-1.6,-2.6 L1.6,-2.6 L-0.2,-0.5 Q1.9,-0.5 1.9,1 Q1.9,2.7 0,2.7 Q-1.3,2.7 -1.8,1.9" stroke="#e8e8e8" stroke-width="1.3" fill="none"/>
<path d="M312.7,254.2 L366,254.2 L366,234.5" stroke="#858585" stroke-width="3.8" fill="none" stroke-linejoin="round"/>
<path d="M312.7,254.2 L366,254.2 L366,234.5" stroke="#b8b8b8" stroke-width="1.9" fill="none" stroke-linejoin="round"/>
<path d="M361,236.5 Q366,231.5 371,236.5" stroke="#6e6e6e" stroke-width="0.9" fill="none" />
<line x1="366" y1="236.5" x2="366" y2="231.5" stroke="#6e6e6e" stroke-width="0.9" />
<rect x="329.5" y="243.5" width="7.8" height="7.2" fill="#141414"/>
<path transform="translate(333.4,247.1) scale(0.8470588235294118)" d="M-1.7,-1.4 Q-1.4,-2.7 0,-2.7 Q1.7,-2.7 1.7,-1.2 Q1.7,0 -1.8,2.6 L1.9,2.6" stroke="#e8e8e8" stroke-width="1.3" fill="none"/>
<circle cx="453.5" cy="232.6" r="2.4" stroke="#6e6e6e" stroke-width="0.8" fill="#fff" />
<rect x="460.9" y="228.9" width="7.5" height="7.2" fill="#141414"/>
<path transform="translate(464.65,232.5) scale(0.8470588235294118)" d="M-0.9,-1.9 L0.3,-2.7 L0.3,2.7" stroke="#e8e8e8" stroke-width="1.3" fill="none"/>
<line x1="452.4" y1="223.3" x2="474.4" y2="214.8" stroke="#6e6e6e" stroke-width="0.8" />
<g transform="translate(474.4,214.8)"><path d="M6,0.2 L16,0.4" stroke="#858585" stroke-width="1.5"/><rect x="0" y="-1.5" width="6.2" height="3" rx="1.5" fill="#fff" stroke="#777" stroke-width="0.9"/></g>
<circle cx="556.9" cy="47.75" r="45.3" stroke="#7a7a7a" stroke-width="1" fill="none" stroke-dasharray="5 4.2"/>
<path d="M516.7,39.5 L541,39.5 L552,41.5 L552,44 L541,45.8 L516.7,45.8 Z" stroke="#555" stroke-width="1.1" fill="#ddd" />
<line x1="517" y1="42.6" x2="541" y2="42.6" stroke="#777" stroke-width="0.8" />
<circle cx="548" cy="40.3" r="5.5" stroke="#7a7a7a" stroke-width="0.7" fill="none" stroke-dasharray="2 1.5"/>
<circle cx="523.75" cy="45" r="5.5" stroke="#7a7a7a" stroke-width="0.7" fill="none" stroke-dasharray="2 1.5"/>
<line x1="549" y1="40" x2="549" y2="53.6" stroke="#777" stroke-width="1" />
<path d="M552,42.6 L563.6,40.6 L569,41.9 L569.5,45" stroke="#6e6e6e" stroke-width="0.9" fill="none" />
<path d="M568.3,44.2 L575.3,46 L575.3,57.5 L568.3,59 Q570.5,51.6 568.3,44.2 Z" stroke="#6e6e6e" stroke-width="0.9" fill="#fff" />
<rect x="575.3" y="45" width="6.3" height="12.5" stroke="#6e6e6e" stroke-width="0.8" fill="#fff" rx="0"/>
<rect x="582.3" y="46.6" width="4" height="9.4" stroke="#6e6e6e" stroke-width="0.8" fill="#fff" rx="0"/>
<rect x="586.25" y="37.2" width="6.25" height="28" stroke="#444" stroke-width="1.4" fill="#eee" rx="1"/>
<rect x="586.5" y="39" width="5.8" height="2.4" fill="#555"/>
<rect x="586.5" y="47" width="5.8" height="2.4" fill="#555"/>
<rect x="586.5" y="55" width="5.8" height="2.4" fill="#555"/>
<rect x="586.5" y="62" width="5.8" height="2.4" fill="#555"/>
<g transform="translate(606.5,9) scale(1.0)" fill="none" stroke="#6a6a6a" stroke-width="1.15"><path d="M0,0 L12.2,0.9 M0,0 L5.2,5.2 L12.6,5.2 L14.2,3"/><circle cx="14.1" cy="1" r="2" stroke="#606060" stroke-width="1.2"/></g>
<line x1="606.5" y1="9.5" x2="589.5" y2="37.2" stroke="#6e6e6e" stroke-width="0.8" />
<rect x="390.3" y="298.9" width="11.3" height="46.5" stroke="#6e6e6e" stroke-width="1" fill="#fff" rx="5"/>
<circle cx="396" cy="302.8" r="2.6" stroke="#555" stroke-width="1.1" fill="#bbb" />
<circle cx="396" cy="315.6" r="1.7" stroke="#666" stroke-width="1" fill="#ccc" />
<circle cx="396" cy="326.8" r="2.6" stroke="#555" stroke-width="1.1" fill="#bbb" />
<line x1="396" y1="303" x2="396" y2="340" stroke="#888" stroke-width="0.7" />
<rect x="393" y="333.6" width="5" height="9.4" stroke="#6e6e6e" stroke-width="0.8" fill="#eee" rx="0"/>
<rect x="389.5" y="344.5" width="12.5" height="4.5" fill="#555"/>
<rect x="388.7" y="349.8" width="13.7" height="12" stroke="#555" stroke-width="1" fill="#e6e6e6" rx="1"/>
<line x1="392" y1="350" x2="392" y2="361.5" stroke="#777" stroke-width="0.7" />
<line x1="399" y1="350" x2="399" y2="361.5" stroke="#777" stroke-width="0.7" />
<path d="M389.5,363.5 L401.5,363.5 L400,369.5 L391,369.5 Z" stroke="#777" stroke-width="0.8" fill="#d0d0d0" />
<text x="408.5" y="337" font-size="3" fill="#555" transform="rotate(-90 408.5 337)">нос нос</text>
<g transform="translate(377.7,341.6) scale(-1.0,1.0)" fill="none" stroke="#6a6a6a" stroke-width="1.15"><path d="M0,0 L12.2,0.9 M0,0 L5.2,5.2 L12.6,5.2 L14.2,3"/><circle cx="14.1" cy="1" r="2" stroke="#606060" stroke-width="1.2"/></g>
<line x1="377.7" y1="341.6" x2="390" y2="346" stroke="#6e6e6e" stroke-width="0.8" />
<path d="M406.7,348 C411,344 416,341 423,342 L430,340.5 L468,340.5 L471,344 L468,350.4 L410,350.4 C408,350.4 407,349 406.7,348 Z" stroke="#6e6e6e" stroke-width="0.9" fill="#fff" />
<path d="M410,346.5 L425,344.5 L468,344.5" stroke="#999" stroke-width="0.6" fill="none" />
<path d="M381,355 L365.5,355 L365.5,407.2" stroke="#858585" stroke-width="3.8" fill="none" stroke-linejoin="round"/>
<path d="M381,355 L365.5,355 L365.5,407.2" stroke="#b8b8b8" stroke-width="1.9" fill="none" stroke-linejoin="round"/>
<path d="M386,350 Q381,355 386,360" stroke="#6e6e6e" stroke-width="0.9" fill="none" />
<line x1="406.7" y1="366.8" x2="458.3" y2="453.6" stroke="#5a5a5a" stroke-width="0.8" />
<path d="M459.6,429.4 L463.6,429.4 L463.6,444.5 L466.8,447 L466.8,457.5 L463.6,457.5 L463.6,460.2 L459.6,460.2 Z" stroke="#6e6e6e" stroke-width="0.9" fill="#fff" />
<line x1="457.7" y1="438" x2="459.6" y2="438" stroke="#444" stroke-width="1.2" />
<line x1="457.7" y1="453.6" x2="459.6" y2="453.6" stroke="#444" stroke-width="1.2" />
<line x1="473.7" y1="436" x2="473.7" y2="470" stroke="#888" stroke-width="1.2" />
<rect x="471.6" y="436" width="4.3" height="34" stroke="#aaa" stroke-width="0.6" fill="none" rx="2"/>
<circle cx="473.7" cy="437.8" r="2.1" stroke="#6e6e6e" stroke-width="0" fill="#444" />
<circle cx="473.7" cy="449" r="1.9" stroke="#6e6e6e" stroke-width="0" fill="#555" />
<rect x="471.8" y="457" width="3.9" height="13" stroke="#444" stroke-width="0.8" fill="#888" rx="1.5"/>
<rect x="472.3" y="460" width="2.9" height="2" fill="#ddd"/>
<path d="M461.5,459 A11.5,11.5 0 0 0 483,465" stroke="#777" stroke-width="0.9" fill="none" stroke-dasharray="2.8 2"/>
<circle cx="557.5" cy="370.6" r="45.3" stroke="#7a7a7a" stroke-width="1" fill="none" stroke-dasharray="5 4.2"/>
<line x1="549" y1="329.9" x2="549" y2="384.5" stroke="#666" stroke-width="1.8" />
<line x1="523.9" y1="384.5" x2="549" y2="384.5" stroke="#666" stroke-width="1.8" />
<path d="M558,354 L558,346.5 L585.8,346.5" stroke="#555" stroke-width="2.4" fill="none" />
<path d="M555.5,351.5 L558,355.5 L560.5,351.5" stroke="#6e6e6e" stroke-width="0.8" fill="none" />
<rect x="563.7" y="350.4" width="8.2" height="6.8" fill="#141414"/>
<path transform="translate(567.8000000000001,353.79999999999995) scale(0.7999999999999999)" d="M0.9,2.8 L0.9,-2.7 L-1.9,1.2 L2.1,1.2" stroke="#e8e8e8" stroke-width="1.3" fill="none"/>
<rect x="554.2" y="356.4" width="7.3" height="27.6" stroke="#6e6e6e" stroke-width="0.8" fill="#fff" rx="0"/>
<circle cx="557.8" cy="381" r="1.5" stroke="#6e6e6e" stroke-width="0" fill="#555" />
<text x="566" y="383" font-size="3" fill="#555" transform="rotate(-90 566 383)">нос нос</text>
<circle cx="577.8" cy="363.5" r="2.4" stroke="#6e6e6e" stroke-width="0" fill="#555" />
<line x1="577.8" y1="364" x2="577.8" y2="376" stroke="#888" stroke-width="1.4" />
<rect x="575.6" y="375" width="4.4" height="12" stroke="#555" stroke-width="0.8" fill="#aaa" rx="0"/>
<path d="M575.6,387 L580,387 L579,393.5 L576.6,393.5 Z" stroke="#444" stroke-width="0.8" fill="#666" />
<line x1="549" y1="360" x2="549" y2="373" stroke="#ccc" stroke-width="3" />
<rect x="571.2" y="372" width="5" height="11" stroke="#6e6e6e" stroke-width="0.8" fill="#fff" rx="0"/>
<rect x="558" y="394" width="8" height="7.8" fill="#141414"/>
<path transform="translate(562.0,397.9) scale(0.9176470588235294)" d="M1.6,-2.6 L-1.2,-2.6 L-1.5,-0.1 Q-0.5,-0.7 0.4,-0.6 Q1.9,-0.4 1.9,1 Q1.9,2.7 0,2.7 Q-1.3,2.7 -1.8,2" stroke="#e8e8e8" stroke-width="1.3" fill="none"/>
<text x="569" y="399" font-size="3" fill="#555">нос нос</text>
<g transform="translate(605.1,357.4) scale(1.0)" fill="none" stroke="#6a6a6a" stroke-width="1.15"><path d="M0,0 L12.2,0.9 M0,0 L5.2,5.2 L12.6,5.2 L14.2,3"/><circle cx="14.1" cy="1" r="2" stroke="#606060" stroke-width="1.2"/></g>
<line x1="605.1" y1="357.4" x2="578" y2="388" stroke="#6e6e6e" stroke-width="0.8" />
<circle cx="557" cy="455.6" r="36.2" stroke="#7a7a7a" stroke-width="1" fill="none" stroke-dasharray="5 4.2"/>
<path d="M538,432.2 L541.3,432.2 L541.3,466.8 L530.9,466.8" stroke="#666" stroke-width="1.6" fill="none" />
<path d="M541.3,440 L543,441 L543,449 L541.3,450 M541.3,455 L543,456 L543,460 L541.3,461" stroke="#777" stroke-width="0.9" fill="none" />
<line x1="543" y1="445" x2="549.2" y2="445" stroke="#999" stroke-width="0.7" />
<line x1="543" y1="462" x2="549.2" y2="462" stroke="#999" stroke-width="0.7" />
<rect x="549.2" y="440" width="6.5" height="26.8" stroke="#6e6e6e" stroke-width="0.9" fill="#fff" rx="0"/>
<line x1="562.25" y1="440" x2="562.25" y2="474.7" stroke="#777" stroke-width="0.8" />
<line x1="559.6" y1="442.0" x2="564.9" y2="442.0" stroke="#555" stroke-width="1.3" />
<circle cx="562.25" cy="442.0" r="1.3" stroke="#6e6e6e" stroke-width="0" fill="#444" />
<line x1="559.6" y1="448.0725" x2="564.9" y2="448.0725" stroke="#555" stroke-width="1.3" />
<circle cx="562.25" cy="448.0725" r="1.3" stroke="#6e6e6e" stroke-width="0" fill="#444" />
<line x1="559.6" y1="454.145" x2="564.9" y2="454.145" stroke="#555" stroke-width="1.3" />
<circle cx="562.25" cy="454.145" r="1.3" stroke="#6e6e6e" stroke-width="0" fill="#444" />
<line x1="559.6" y1="460.2175" x2="564.9" y2="460.2175" stroke="#555" stroke-width="1.3" />
<circle cx="562.25" cy="460.2175" r="1.3" stroke="#6e6e6e" stroke-width="0" fill="#444" />
<rect x="559.9" y="467.06600000000003" width="4.7" height="7.634" stroke="#555" stroke-width="0.9" fill="#999" rx="1"/>
<rect x="566.8" y="446" width="3.3" height="18.2" stroke="#999" stroke-width="0.7" fill="#fff" rx="0"/>
<rect x="569" y="435" width="7.4" height="7.7" fill="#141414"/>
<path transform="translate(572.7,438.85) scale(0.9058823529411765)" d="M0.9,2.8 L0.9,-2.7 L-1.9,1.2 L2.1,1.2" stroke="#e8e8e8" stroke-width="1.3" fill="none"/>
<rect x="543.8" y="474.4" width="7.6" height="7.6" fill="#141414"/>
<path transform="translate(547.5999999999999,478.2) scale(0.8941176470588235)" d="M1.6,-2.6 L-1.2,-2.6 L-1.5,-0.1 Q-0.5,-0.7 0.4,-0.6 Q1.9,-0.4 1.9,1 Q1.9,2.7 0,2.7 Q-1.3,2.7 -1.8,2" stroke="#e8e8e8" stroke-width="1.3" fill="none"/>
<text x="553.6" y="479" font-size="3" fill="#555">нос нос</text>
<g transform="translate(605.1,443.5) scale(1.0)" fill="none" stroke="#6a6a6a" stroke-width="1.15"><path d="M0,0 L12.2,0.9 M0,0 L5.2,5.2 L12.6,5.2 L14.2,3"/><circle cx="14.1" cy="1" r="2" stroke="#606060" stroke-width="1.2"/></g>
<line x1="605.1" y1="443.5" x2="563" y2="466" stroke="#6e6e6e" stroke-width="0.8" />
</svg>
</body></html>
